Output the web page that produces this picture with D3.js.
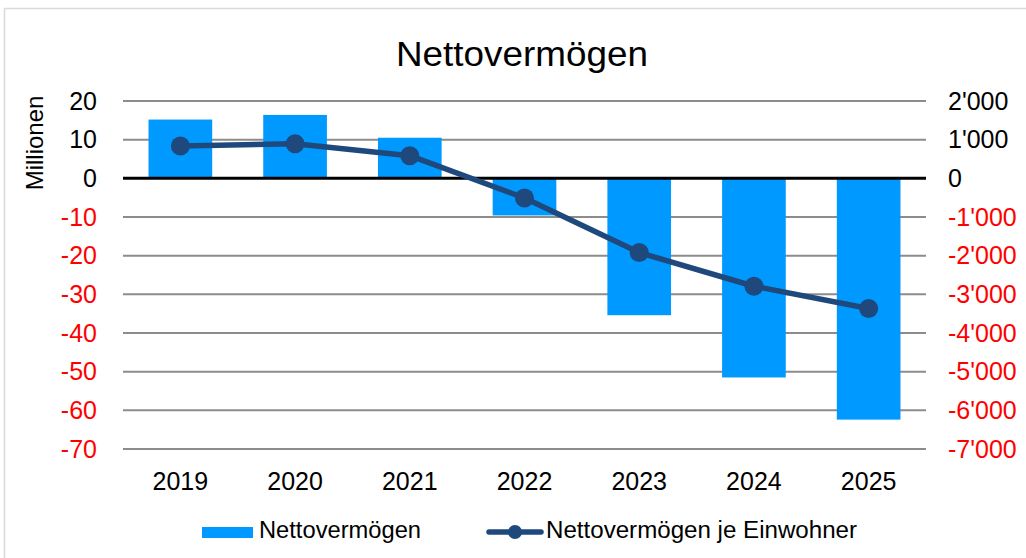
<!DOCTYPE html>
<html>
<head>
<meta charset="utf-8">
<script src="https://cdn.jsdelivr.net/npm/d3@7"></script>
<style>
  body { margin: 0; background: #fff; }
  svg { font-family: "Liberation Sans", Arial, sans-serif; }
</style>
</head>
<body>
<svg id="chart"></svg>
<script>
const years = ['2019', '2020', '2021', '2022', '2023', '2024', '2025'];
const nettovermoegen = [15.2, 16.4, 10.5, -9.6, -35.4, -51.5, -62.4];
const jeEinwohner = [835, 895, 586, -509, -1920, -2791, -3368];
const leftTicks = [20, 10, 0, -10, -20, -30, -40, -50, -60, -70];
const rightTicks = [2000, 1000, 0, -1000, -2000, -3000, -4000, -5000, -6000, -7000];

const WIDTH = 1026;
const HEIGHT = 558;
const plot = {left: 123, right: 926, top: 101, bottom: 449};

const svg = d3.select('#chart')
  .attr('width', WIDTH)
  .attr('height', HEIGHT);

// outer frame
svg.append('rect')
  .attr('x', 4.5).attr('y', 8.5)
  .attr('width', 1040).attr('height', 600)
  .attr('fill', 'none')
  .attr('stroke', '#d9d9d9')
  .attr('stroke-width', 1.5);

svg.append('text')
  .attr('x', 522).attr('y', 66)
  .attr('text-anchor', 'middle')
  .attr('font-size', 35)
  .attr('textLength', 252)
  .attr('lengthAdjust', 'spacingAndGlyphs')
  .text('Nettovermögen');

const x = d3.scaleBand()
  .domain(years)
  .range([plot.left, plot.right])
  .paddingInner(0.445)
  .paddingOuter(0.2225);

const xCenter = d3.scaleBand().domain(years).range([plot.left, plot.right]);

const yLeft = d3.scaleLinear().domain([-70, 20]).range([plot.bottom, plot.top]);
const yRight = d3.scaleLinear().domain([-7000, 2000]).range([plot.bottom, plot.top]);

// gridlines
svg.append('g')
  .selectAll('line')
  .data(leftTicks.filter(d => d !== 0))
  .enter()
  .append('line')
  .attr('x1', plot.left).attr('x2', plot.right)
  .attr('y1', d => yLeft(d)).attr('y2', d => yLeft(d))
  .attr('stroke', '#8c8c8c')
  .attr('stroke-width', 2);

// bars
svg.append('g')
  .selectAll('.bar')
  .data(nettovermoegen)
  .enter()
  .append('rect')
  .classed('bar', true)
  .attr('x', (d, i) => x(years[i]))
  .attr('width', x.bandwidth())
  .attr('y', d => yLeft(Math.max(0, d)))
  .attr('height', d => Math.abs(yLeft(d) - yLeft(0)))
  .attr('fill', '#0099ff');

// zero line
svg.append('line')
  .attr('x1', plot.left).attr('x2', plot.right)
  .attr('y1', yLeft(0)).attr('y2', yLeft(0))
  .attr('stroke', '#000')
  .attr('stroke-width', 3);

// line series
const cx = i => xCenter(years[i]) + xCenter.bandwidth() / 2;
const line = d3.line()
  .x((d, i) => cx(i))
  .y(d => yRight(d));

svg.append('path')
  .datum(jeEinwohner)
  .attr('d', line)
  .attr('fill', 'none')
  .attr('stroke', '#1f497d')
  .attr('stroke-width', 5.5)
  .attr('stroke-linejoin', 'round');

svg.append('g')
  .selectAll('circle')
  .data(jeEinwohner)
  .enter()
  .append('circle')
  .attr('cx', (d, i) => cx(i))
  .attr('cy', d => yRight(d))
  .attr('r', 9.5)
  .attr('fill', '#1f497d');

// left axis labels
svg.append('g')
  .selectAll('text')
  .data(leftTicks)
  .enter()
  .append('text')
  .attr('x', 97)
  .attr('y', d => yLeft(d))
  .attr('dy', '0.35em')
  .attr('text-anchor', 'end')
  .attr('font-size', 25)
  .attr('fill', d => d < 0 ? '#ff0000' : '#000')
  .text(d => d);

// right axis labels
const fmt = d => d3.format(',')(d).replace(/,/g, "'").replace('−', '-');
svg.append('g')
  .selectAll('text')
  .data(rightTicks)
  .enter()
  .append('text')
  .attr('x', 948)
  .attr('y', d => yRight(d))
  .attr('dy', '0.35em')
  .attr('text-anchor', 'start')
  .attr('font-size', 25)
  .attr('fill', d => d < 0 ? '#ff0000' : '#000')
  .text(fmt);

// x labels
svg.append('g')
  .selectAll('text')
  .data(years)
  .enter()
  .append('text')
  .attr('x', (d, i) => cx(i))
  .attr('y', 490)
  .attr('text-anchor', 'middle')
  .attr('font-size', 25)
  .text(d => d);

// y title
svg.append('text')
  .attr('transform', 'translate(43,143) rotate(-90)')
  .attr('text-anchor', 'middle')
  .attr('font-size', 24)
  .text('Millionen');

// legend
const legend = svg.append('g');
legend.append('rect')
  .attr('x', 202).attr('y', 527)
  .attr('width', 51).attr('height', 11)
  .attr('fill', '#0099ff');
legend.append('text')
  .attr('x', 259).attr('y', 538)
  .attr('font-size', 23)
  .attr('textLength', 162)
  .attr('lengthAdjust', 'spacingAndGlyphs')
  .text('Nettovermögen');
legend.append('line')
  .attr('x1', 489).attr('x2', 541)
  .attr('y1', 532).attr('y2', 532)
  .attr('stroke', '#1f497d')
  .attr('stroke-width', 5.5)
  .attr('stroke-linecap', 'round');
legend.append('circle')
  .attr('cx', 515).attr('cy', 532)
  .attr('r', 7)
  .attr('fill', '#1f497d');
legend.append('text')
  .attr('x', 546).attr('y', 538)
  .attr('font-size', 23)
  .attr('textLength', 311)
  .attr('lengthAdjust', 'spacingAndGlyphs')
  .text('Nettovermögen je Einwohner');
</script>
</body>
</html>
